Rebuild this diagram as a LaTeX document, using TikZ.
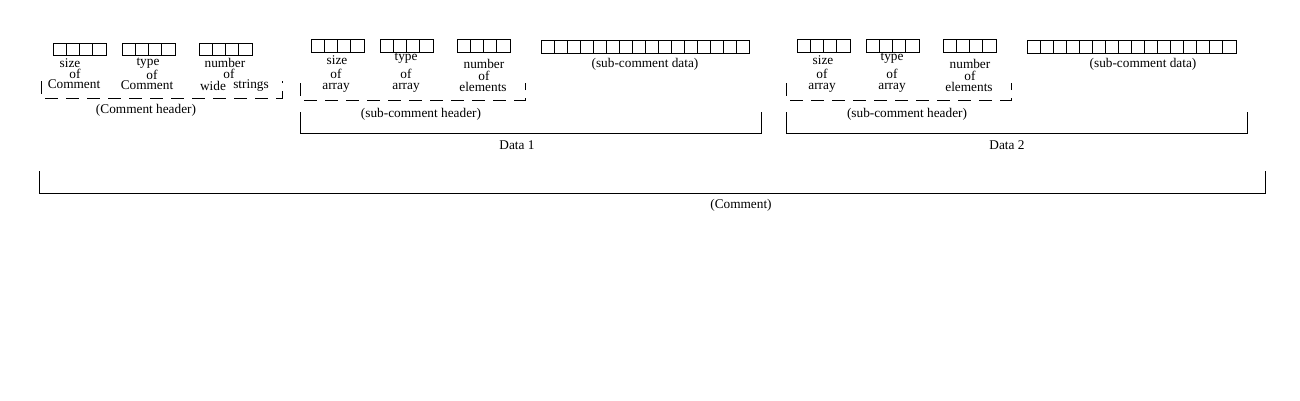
\documentclass[tikz,border=0pt]{standalone}
\usepackage{fontspec}
\setmainfont{Liberation Serif}
\begin{document}
\begin{tikzpicture}[x=1pt,y=-1pt,
  lbl/.style={inner sep=0pt,font=\fontsize{13.3}{13.3}\selectfont},
  cell/.style={draw=black,line width=0.9pt},
  brk/.style={draw=black,line width=1pt},
  dbrk/.style={draw=black,line width=1pt,dash pattern=on 13pt off 8pt}]
\useasboundingbox[fill=white] (0,0) rectangle (1300,400);
% cell groups: x, y, number of cells, cell width, height
\foreach \x/\y/\n/\w/\h in {53/43/4/13.25/12, 122/43/4/13.25/12, 199/43/4/13.25/12,
  311/39/4/13.25/13, 380/39/4/13.25/13, 457/39/4/13.25/13, 541/40/16/13/13,
  797/39/4/13.25/13, 866/39/4/13.25/13, 943/39/4/13.25/13, 1027/40/16/13.06/13}{
  \foreach \i in {1,...,\n}{
    \draw[cell] ({\x+(\i-1)*\w},\y) rectangle ({\x+\i*\w},\y+\h);
  }
}
% Comment header labels
\node[lbl] (s1) at (70,63) {size};
\node[lbl] (s1o) at (75,73.5) {of};
\node[lbl] (s1c) at (74,84) {Comment};
\node[lbl] (t1) at (148,63) {type};
\node[lbl] (t1o) at (152,74.5) {of};
\node[lbl] (t1c) at (147,85.5) {Comment};
\node[lbl] (n1) at (225,63) {number};
\node[lbl] (n1o) at (229,74) {of};
\node[lbl] (n1w) at (213,85.5) {wide};
\node[lbl] (n1s) at (251,85.5) {strings};
\node[lbl] (ch) at (146,110) {(Comment header)};
\draw[dbrk] (41,81) -- (41,98) -- (282,98) -- (282,81);
% Data 1 and Data 2 sub-comment headers
\foreach \dx/\k in {0/a,486/b}{
  \node[lbl] (sz\k) at (337+\dx,60) {size};
  \node[lbl] (szo\k) at (336+\dx,74) {of};
  \node[lbl] (sza\k) at (336+\dx,88) {array};
  \node[lbl] (ty\k) at (406+\dx,58) {type};
  \node[lbl] (tyo\k) at (406+\dx,74) {of};
  \node[lbl] (tya\k) at (406+\dx,88) {array};
  \node[lbl] (nu\k) at (484+\dx,64) {number};
  \node[lbl] (nuo\k) at (484+\dx,75.5) {of};
  \node[lbl] (nue\k) at (483+\dx,87) {elements};
  \node[lbl] (sh\k) at (421+\dx,114) {(sub-comment header)};
  \draw[dbrk] (300+\dx,83) -- (300+\dx,100) -- (525+\dx,100) -- (525+\dx,83);
}
\node[lbl] (sd1) at (645,64) {(sub-comment data)};
\node[lbl] (sd2) at (1143,64) {(sub-comment data)};
\draw[brk] (300,112) -- (300,133) -- (761,133) -- (761,112);
\node[lbl] (d1) at (517,145) {Data 1};
\draw[brk] (786,112) -- (786,133) -- (1247,133) -- (1247,112);
\node[lbl] (d2) at (1007,145) {Data 2};
\draw[brk] (39,171) -- (39,193) -- (1265,193) -- (1265,171);
\node[lbl] (cm) at (741,205) {(Comment)};
\end{tikzpicture}
\end{document}
